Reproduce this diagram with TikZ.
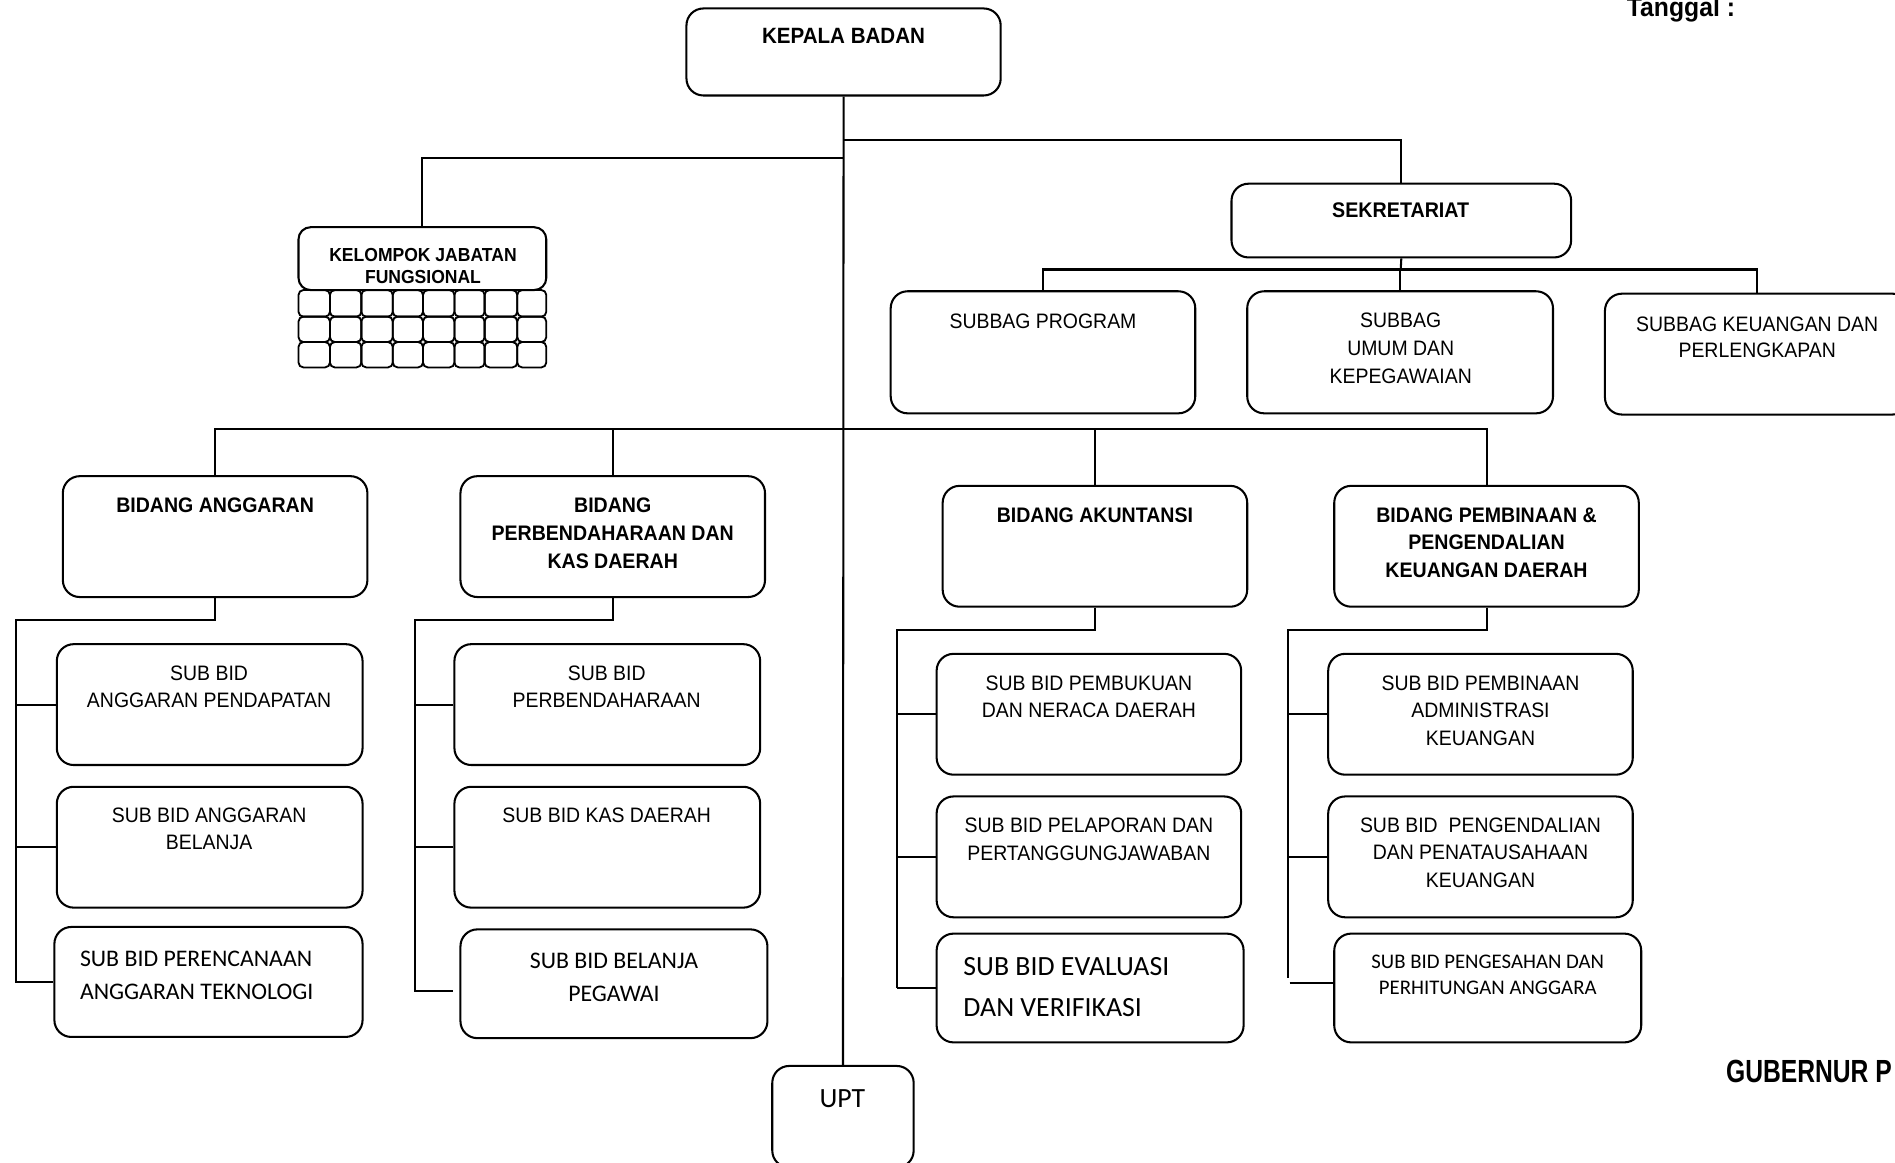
\documentclass[tikz,border=0pt]{standalone}
\usepackage{fontspec}
\newfontfamily\arialn[FakeStretch=0.93]{Liberation Sans}
\newfontfamily\arialgub[FakeStretch=0.77]{Liberation Sans}
\newfontfamily\calib{Carlito}
\usetikzlibrary{calc}
\begin{document}
\begin{tikzpicture}[x=1pt,y=-1pt,
  box/.style={draw, line width=1.7pt, rounded corners=14pt, inner sep=0pt},
  conn/.style={line width=1.7pt},
  cell/.style={line width=1.5pt, rounded corners=4pt},
  txt/.style={align=center, inner sep=0pt, font=\arialn\fontsize{17.3}{22.5}\selectfont},
  btxt/.style={align=center, inner sep=0pt, font=\arialn\bfseries\fontsize{17.4}{23}\selectfont},
  ctxt/.style={inner sep=0pt, font=\calib\fontsize{19.7}{27.5}\selectfont}]
\useasboundingbox (0,0) rectangle (1568,962);
\clip (0,0) rectangle (1568,962);
% boxes
\node[box, minimum width=260pt, minimum height=72pt] (kb) at (698,43) {};
\node[box, minimum width=281pt, minimum height=61pt] (sek) at (1159.5,182.5) {};
\node[box, minimum width=252pt, minimum height=101pt] (sp) at (863,291.5) {};
\node[box, minimum width=253pt, minimum height=101pt] (su) at (1158.5,291.5) {};
\node[box, minimum width=252pt, minimum height=100pt] (sk) at (1454,293) {};
\node[box, rounded corners=10pt, minimum width=205pt, minimum height=52pt] (kjf) at (349.5,214) {};
\node[box, minimum width=252pt, minimum height=100pt] (ba) at (178,444) {};
\node[box, minimum width=252pt, minimum height=100pt] (bp) at (507,444) {};
\node[box, minimum width=252pt, minimum height=100pt] (bak) at (906,452) {};
\node[box, minimum width=252pt, minimum height=100pt] (bpm) at (1230,452) {};
\node[box, minimum width=253pt, minimum height=100pt] (a1) at (173.5,583) {};
\node[box, minimum width=253pt, minimum height=100pt] (a2) at (173.5,701) {};
\node[box, minimum width=255pt, minimum height=91pt] (a3) at (172.5,812.5) {};
\node[box, minimum width=253pt, minimum height=100pt] (p1) at (502.5,583) {};
\node[box, minimum width=253pt, minimum height=100pt] (p2) at (502.5,701) {};
\node[box, minimum width=254pt, minimum height=90pt] (p3) at (508,814) {};
\node[box, minimum width=252pt, minimum height=100pt] (k1) at (901,591) {};
\node[box, minimum width=252pt, minimum height=100pt] (k2) at (901,709) {};
\node[box, minimum width=254pt, minimum height=90pt] (k3) at (902,817.5) {};
\node[box, minimum width=252pt, minimum height=100pt] (m1) at (1225,591) {};
\node[box, minimum width=252pt, minimum height=100pt] (m2) at (1225,709) {};
\node[box, minimum width=254pt, minimum height=90pt] (m3) at (1231,817.5) {};
\node[box, minimum width=117pt, minimum height=84pt] (upt) at (697.5,924) {};
% grid of kelompok jabatan fungsional
\foreach \xa/\xb in {247/273,273/299,299/325,325/350,350/376,376/401,401/428,428/452}
  \foreach \ya/\yb in {240/262,262/283,283/304}
    \draw[cell] (\xa,\ya) rectangle (\xb,\yb);
% texts
\node[btxt, font=\arialn\bfseries\fontsize{18.3}{22}\selectfont] (tkb) at (698,30) {KEPALA BADAN};
\node[btxt, font=\arialn\bfseries\fontsize{17.5}{22}\selectfont] (tsek) at (1159,174) {SEKRETARIAT};
\node[txt] (tsp) at (863,266) {SUBBAG PROGRAM};
\node[txt, font=\arialn\fontsize{17.3}{23}\selectfont] (tsu) at (1159,288) {SUBBAG\\UMUM DAN\\KEPEGAWAIAN};
\node[txt, font=\arialn\fontsize{17.3}{22}\selectfont] (tsk) at (1454,279) {SUBBAG KEUANGAN DAN\\PERLENGKAPAN};
\node[btxt, font=\arialn\bfseries\fontsize{15.6}{18}\selectfont] (tkjf) at (350,220) {KELOMPOK JABATAN\\FUNGSIONAL};
\node[btxt] (tba) at (178,418) {BIDANG ANGGARAN};
\node[btxt] (tbp) at (507,441) {BIDANG\\PERBENDAHARAAN DAN\\KAS DAERAH};
\node[btxt] (tbak) at (906,426) {BIDANG AKUNTANSI};
\node[btxt] (tbpm) at (1230,449) {BIDANG PEMBINAAN \&\\PENGENDALIAN\\KEUANGAN DAERAH};
\node[txt] (ta1) at (173,568) {SUB BID\\ANGGARAN PENDAPATAN};
\node[txt] (ta2) at (173,686) {SUB BID ANGGARAN\\BELANJA};
\node[ctxt, align=left, anchor=west] (ta3) at (66,807) {SUB BID PERENCANAAN\\ANGGARAN TEKNOLOGI};
\node[txt] (tp1) at (502,568) {SUB BID\\PERBENDAHARAAN};
\node[txt] (tp2) at (502,675) {SUB BID KAS DAERAH};
\node[ctxt, align=center, font=\calib\fontsize{19.7}{27}\selectfont] (tp3) at (508,808.5) {SUB BID BELANJA\\PEGAWAI};
\node[txt] (tk1) at (901,576.5) {SUB BID PEMBUKUAN\\DAN NERACA DAERAH};
\node[txt] (tk2) at (901,694.5) {SUB BID PELAPORAN DAN\\PERTANGGUNGJAWABAN};
\node[ctxt, align=left, anchor=west, font=\calib\fontsize{23}{34}\selectfont] (tk3) at (797,817) {SUB BID EVALUASI\\DAN VERIFIKASI};
\node[txt] (tm1) at (1225,588) {SUB BID PEMBINAAN\\ADMINISTRASI\\KEUANGAN};
\node[txt] (tm2) at (1225,705.5) {SUB BID\ \ PENGENDALIAN\\DAN PENATAUSAHAAN\\KEUANGAN};
\node[ctxt, align=center, font=\calib\fontsize{17.2}{21}\selectfont] (tm3) at (1231,806.5) {SUB BID PENGESAHAN DAN\\PERHITUNGAN ANGGARA};
\node[ctxt, font=\calib\fontsize{23}{27}\selectfont] (tupt) at (697,909) {UPT};
\node[inner sep=0pt, anchor=base west, font=\arialn\bfseries\fontsize{22}{24}\selectfont] (tgl) at (1346,14) {Tanggal :};
\node[inner sep=0pt, anchor=west, font=\arialgub\bfseries\fontsize{26.5}{30}\selectfont] (gub) at (1428,886.5) {GUBERNUR P};
% connectors
\coordinate (j1) at (698,116);
\coordinate (j2) at (698,131);
\coordinate (s1) at (1159,223);
\coordinate (bus) at (698,355);
\draw[conn] (kb.south) -- (upt.north);
\draw[conn] (j1) -| (sek.north);
\draw[conn] (j2) -| (kjf.north);
\draw[conn] (sek.south) -- (s1);
\draw[conn] (sp.north) |- (s1) -| (sk.north);
\draw[conn] (su.north) -- (su.north |- s1);
\draw[conn] (ba.north) |- (bus) -| (bpm.north);
\draw[conn] (bp.north) -- (bp.north |- bus);
\draw[conn] (bak.north) -- (bak.north |- bus);
% anggaran
\coordinate (ca1) at (13,513);
\coordinate (ca2) at (13,813);
\draw[conn] (ba.south) |- (ca1) -- (ca2);
\draw[conn] (a1.west) -- (a1.west -| ca1);
\draw[conn] (a2.west) -- (a2.west -| ca1);
\draw[conn] (a3.west) -- (a3.west -| ca1);
% perbendaharaan
\coordinate (cp1) at (343,513);
\coordinate (cp2) at (343,820);
\coordinate (cp3) at (375,820);
\draw[conn] (bp.south) |- (cp1) -- (cp2) -- (cp3);
\draw[conn] (p1.west) -- (p1.west -| cp1);
\draw[conn] (p2.west) -- (p2.west -| cp1);
% akuntansi
\coordinate (ck1) at (742,521);
\coordinate (ck2) at (742,817.5);
\draw[conn] (bak.south) |- (ck1) -- (ck2);
\draw[conn] (k1.west) -- (k1.west -| ck1);
\draw[conn] (k2.west) -- (k2.west -| ck1);
\draw[conn] (k3.west) -- (k3.west -| ck1);
% pembinaan
\coordinate (cm1) at (1066,521);
\coordinate (cm2) at (1066,809);
\coordinate (cm3) at (1067,813);
\draw[conn] (bpm.south) |- (cm1) -- (cm2);
\draw[conn] (m1.west) -- (m1.west -| cm1);
\draw[conn] (m2.west) -- (m2.west -| cm1);
\draw[conn] (cm3) -- (m3.west |- cm3);
\end{tikzpicture}
\end{document}
